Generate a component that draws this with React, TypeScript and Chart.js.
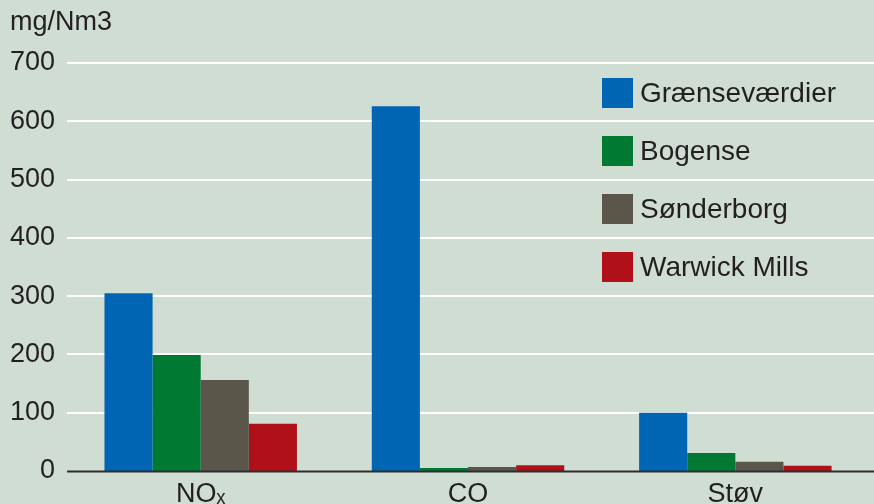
import { useEffect, useRef } from "react";
import { Chart, registerables } from "chart.js";

Chart.register(...registerables);

const categories = ["NOₓ", "CO", "Støv"];
const seriesNames = ["Grænseværdier", "Bogense", "Sønderborg", "Warwick Mills"];
const graensevaerdier = [305, 626, 100];
const bogense = [199, 5, 31];
const soenderborg = [156, 7, 16];
const warwickMills = [81, 10, 9];
const seriesColors = ["#0066b3", "#007a33", "#5a574a", "#b01018"];
const yMin = 0;
const yMax = 700;
const yStep = 100;
const yUnit = "mg/Nm3";

const FONT = "'Liberation Sans', Arial, sans-serif";
const TEXT = "#231f20";

const gridPlugin = {
  id: "fullGrid",
  beforeDatasetsDraw(chart: any) {
    const ctx = chart.ctx;
    const ys = chart.scales.y;
    ctx.save();
    ctx.strokeStyle = "#ffffff";
    ctx.lineWidth = 2;
    ys.ticks.forEach((t: any) => {
      if (t.value === 0) return;
      const y = Math.round(ys.getPixelForValue(t.value));
      ctx.beginPath();
      ctx.moveTo(chart.chartArea.left, y);
      ctx.lineTo(chart.width, y);
      ctx.stroke();
    });
    ctx.restore();
  },
  afterDatasetsDraw(chart: any) {
    const ctx = chart.ctx;
    const ys = chart.scales.y;
    const y = Math.round(ys.getPixelForValue(0)) + 0.5;
    ctx.save();
    ctx.strokeStyle = "#2e2e2e";
    ctx.lineWidth = 2;
    ctx.beginPath();
    ctx.moveTo(chart.chartArea.left, y);
    ctx.lineTo(chart.width, y);
    ctx.stroke();
    ctx.restore();
  },
};

const overlayPlugin = {
  id: "overlay",
  afterDraw(chart: any) {
    const ctx = chart.ctx;
    ctx.save();
    ctx.fillStyle = TEXT;
    ctx.font = `27px ${FONT}`;
    ctx.textBaseline = "middle";
    ctx.textAlign = "left";
    ctx.fillText(yUnit, 10, 23);
    chart.data.datasets.forEach((ds: any, i: number) => {
      const y = 78 + 58 * i;
      ctx.fillStyle = ds.backgroundColor;
      ctx.fillRect(602, y, 31, 30);
      ctx.fillStyle = TEXT;
      ctx.font = `28px ${FONT}`;
      ctx.fillText(ds.label, 640, y + 16);
    });
    ctx.restore();
  },
};

export default function App() {
  const ref = useRef<HTMLCanvasElement>(null);
  useEffect(() => {
    const values = [graensevaerdier, bogense, soenderborg, warwickMills];
    const chart = new Chart(ref.current!, {
      type: "bar",
      data: {
        labels: categories,
        datasets: seriesNames.map((name, i) => ({
          label: name,
          data: values[i],
          backgroundColor: seriesColors[i],
          borderWidth: 0,
          categoryPercentage: 0.72,
          barPercentage: 1,
        })),
      },
      options: {
        animation: false,
        responsive: false,
        maintainAspectRatio: false,
        layout: { padding: { left: -2, right: 5, top: 63, bottom: -15 } },
        plugins: { legend: { display: false }, tooltip: { enabled: false }, title: { display: false } },
        scales: {
          x: {
            grid: { display: false, drawTicks: false },
            border: { display: false },
            ticks: { color: TEXT, font: { family: FONT, size: 27, lineHeight: 1 }, padding: 10.5 },
          },
          y: {
            min: yMin,
            max: yMax,
            ticks: { stepSize: yStep, color: TEXT, font: { family: FONT, size: 27 }, padding: 12 },
            grid: { display: false, drawTicks: false },
            border: { display: false },
          },
        },
      },
      plugins: [gridPlugin, overlayPlugin],
    });
    return () => chart.destroy();
  }, []);
  return (
    <div style={{ position: "fixed", left: 0, top: 0, width: 874, height: 504, background: "#d0ddd3" }}>
      <canvas ref={ref} width={874} height={504} style={{ display: "block" }} />
    </div>
  );
}
